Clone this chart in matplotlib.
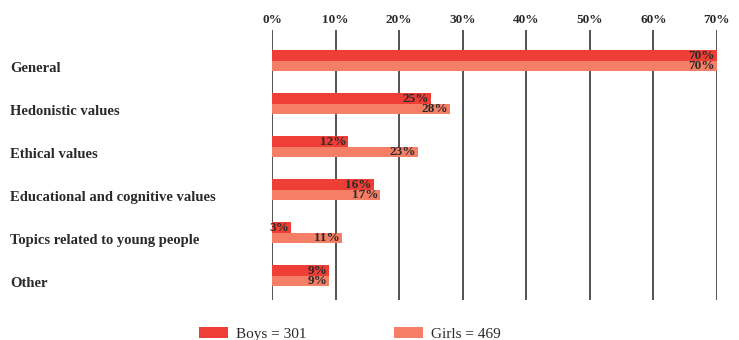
import numpy as np
import matplotlib.pyplot as plt
import matplotlib.transforms as mtransforms

plt.rcParams['font.family'] = ['Liberation Serif', 'DejaVu Serif']

categories = ['General', 'Hedonistic values', 'Ethical values',
              'Educational and cognitive values', 'Topics related to young people', 'Other']
boys = [70, 25, 12, 16, 3, 9]
girls = [70, 28, 23, 17, 11, 9]
series_names = ['Boys = 301', 'Girls = 469']
ticks = [0, 10, 20, 30, 40, 50, 60, 70]

c_boys = '#EF3E35'
c_girls = '#F57F66'
txt = '#2a2a2a'

fig = plt.figure(figsize=(7.39, 3.40), dpi=100)
ax = fig.add_axes([272 / 739, 40 / 340, 445 / 739, 270 / 340])

y = np.arange(len(categories))
h = 0.245
b1 = ax.barh(y - h / 2, boys, height=h, color=c_boys, label=series_names[0], zorder=3)
b2 = ax.barh(y + h / 2, girls, height=h, color=c_girls, label=series_names[1], zorder=3)

for bars, vals in [(b1, boys), (b2, girls)]:
    for r, v in zip(bars, vals):
        ax.text(v - 0.3, r.get_y() + r.get_height() / 2, f'{v}%', ha='right', va='center',
                fontsize=9.5, fontweight='bold', color=txt, zorder=4)

ax.set_xlim(0, 70)
ax.set_ylim(5.56, -0.72)
ax.set_xticks(ticks)
ax.set_xticklabels([f'{t}%' for t in ticks], fontsize=9.5, fontweight='bold', color=txt)
ax.xaxis.tick_top()
ax.tick_params(axis='x', length=0, pad=3)
ax.set_yticks(y)
ax.set_yticklabels(categories, fontsize=10.5, fontweight='bold', color=txt, ha='left')
# pad in points: 262 px from the axis to the left margin
ax.tick_params(axis='y', length=0, pad=262 * 72 / 100)
# category labels sit a little below the bar pair centre
shift = mtransforms.ScaledTranslation(0, -6 / 100, fig.dpi_scale_trans)
for lab in ax.get_yticklabels():
    lab.set_transform(lab.get_transform() + shift)
for s in ax.spines.values():
    s.set_visible(False)
ax.grid(axis='x', color='#444444', linewidth=1.3, zorder=1)

fig.legend(handles=[b1, b2], loc='center', bbox_to_anchor=(350 / 739, 1 - 334 / 340), ncol=2,
           frameon=False, fontsize=11, handlelength=1.9, handleheight=0.7,
           columnspacing=5.7, handletextpad=0.55, labelcolor=txt)

fig.savefig('out.png', dpi=100)
